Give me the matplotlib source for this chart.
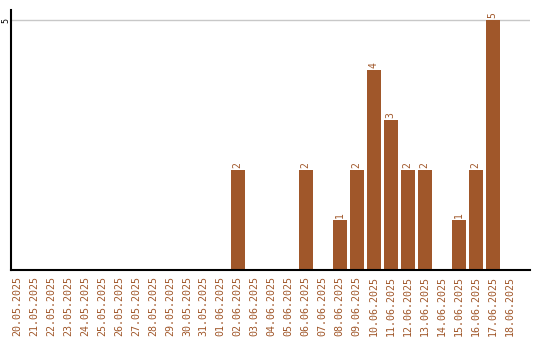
import matplotlib
matplotlib.use("Agg")
import matplotlib.pyplot as plt

dates = ["20.05.2025", "21.05.2025", "22.05.2025", "23.05.2025", "24.05.2025",
         "25.05.2025", "26.05.2025", "27.05.2025", "28.05.2025", "29.05.2025",
         "30.05.2025", "31.05.2025", "01.06.2025", "02.06.2025", "03.06.2025",
         "04.06.2025", "05.06.2025", "06.06.2025", "07.06.2025", "08.06.2025",
         "09.06.2025", "10.06.2025", "11.06.2025", "12.06.2025", "13.06.2025",
         "14.06.2025", "15.06.2025", "16.06.2025", "17.06.2025", "18.06.2025"]
counts = [0, 0, 0, 0, 0, 0, 0, 0, 0, 0, 0, 0, 0, 2, 0,
          0, 0, 2, 0, 1, 2, 4, 3, 2, 2, 0, 1, 2, 5, 0]

color = "#A0572A"

fig = plt.figure(figsize=(5.4, 3.4), dpi=100)
ax = fig.add_axes([11 / 540, 70 / 340, 519 / 540, 260 / 340])

x = list(range(len(dates)))
ax.bar(x, counts, width=0.82, color=color, zorder=2)
for i, v in zip(x, counts):
    if v > 0:
        ax.text(i, v + 0.04, str(v), rotation=90, ha="center", va="bottom",
                color=color, fontsize=7, family="DejaVu Sans Mono")

ax.set_xlim(-0.35, 30.2)
ax.set_ylim(0, 5.2)
ax.set_yticks([5])
ax.set_yticklabels(["5"], rotation=90, va="center", ha="center", fontsize=6,
                   family="DejaVu Sans Mono")
ax.yaxis.grid(True, color="#c8c8c8", linewidth=1, zorder=0)
ax.tick_params(axis="y", length=0, pad=4)
ax.set_xticks(x)
ax.set_xticklabels(dates, rotation=90, color=color, fontsize=7.2,
                   family="DejaVu Sans Mono")
ax.tick_params(axis="x", length=0, pad=4)
for s in ["top", "right"]:
    ax.spines[s].set_visible(False)
ax.spines["left"].set_linewidth(1.5)
ax.spines["bottom"].set_linewidth(1.5)

fig.savefig("out.png", dpi=100)
